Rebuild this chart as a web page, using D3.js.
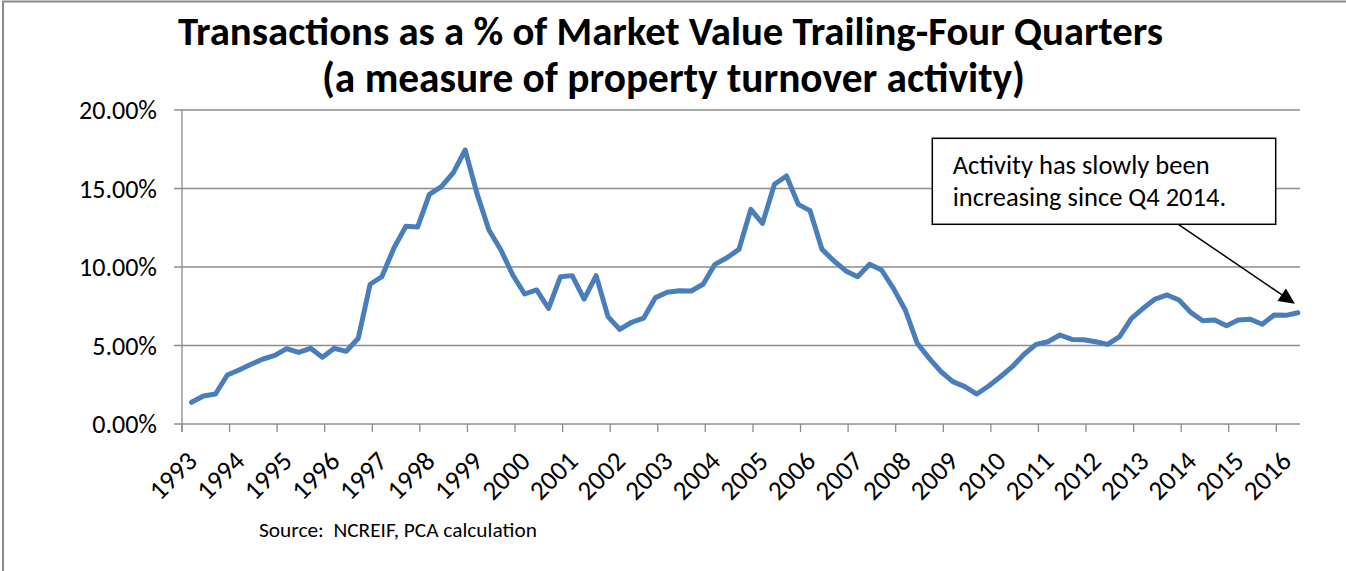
<!DOCTYPE html>
<html>
<head>
<meta charset="utf-8">
<script src="https://cdn.jsdelivr.net/npm/d3@7"></script>
<style>
  html, body { margin: 0; padding: 0; background: #fff; }
  svg { display: block; }
  text { font-family: Carlito, Lato, "Open Sans", sans-serif; fill: #000; }
</style>
</head>
<body>
<svg id="chart" width="1346" height="571"></svg>
<script>
// ---- data ----
const startYear = 1993;
const yearLabels = ["1993","1994","1995","1996","1997","1998","1999","2000","2001","2002","2003","2004",
                    "2005","2006","2007","2008","2009","2010","2011","2012","2013","2014","2015","2016"];
const turnover = [
  1.38,1.78,1.91,3.12,3.44,3.80,4.14,4.37,4.80,4.56,
  4.82,4.25,4.82,4.63,5.46,8.90,9.38,11.19,12.59,12.55,
  14.63,15.12,16.01,17.45,14.69,12.36,11.08,9.49,8.28,8.54,
  7.37,9.38,9.45,7.96,9.45,6.84,6.03,6.48,6.75,8.05,
  8.39,8.49,8.47,8.90,10.17,10.59,11.12,13.67,12.78,15.27,
  15.80,13.99,13.59,11.12,10.38,9.75,9.38,10.17,9.81,8.64,
  7.26,5.14,4.18,3.33,2.70,2.38,1.91,2.42,3.01,3.65,
  4.46,5.07,5.24,5.67,5.39,5.37,5.24,5.07,5.56,6.73,
  7.37,7.96,8.22,7.90,7.11,6.58,6.62,6.26,6.62,6.67,
  6.35,6.94,6.92,7.09
];
// quarters (categories): 1993 Q1 ... 2016 Q2
const quarters = turnover.map((v, i) => ({ year: startYear + Math.floor(i / 4), q: (i % 4) + 1 }));
const yTicks = [0, 5, 10, 15, 20];
const titleLines = ["Transactions as a % of Market Value Trailing-Four Quarters",
                    "(a measure of property turnover activity)"];
const noteLines = ["Activity has slowly been", "increasing since Q4 2014."];
const sourceText = "Source:  NCREIF, PCA calculation";

// ---- layout ----
const svg = d3.select("#chart");
const plot = { left: 182, right: 1300, top: 110, bottom: 424 };
const gray = "#8c8c8c";

const x = d3.scaleTime()
  .domain([new Date(1993, 0, 1), new Date(2016, 6, 1)])
  .range([plot.left, plot.right]);
const y = d3.scaleLinear().domain([0, 20]).range([plot.bottom, plot.top]);

function fit(sel, target) {
  const n = sel.node();
  const w = n.getComputedTextLength();
  const fs = parseFloat(sel.attr("font-size"));
  sel.attr("font-size", (fs * target / w).toFixed(2));
}

// outer border (top and left visible)
svg.append("path")
  .attr("d", "M3,571 L3,1.5 L1346,1.5")
  .attr("fill", "none").attr("stroke", gray).attr("stroke-width", 2);

// title
const t1 = svg.append("text").attr("x", 670.5).attr("y", 45).attr("text-anchor", "middle")
  .attr("font-weight", "bold").attr("font-size", 40).text(titleLines[0]);
fit(t1, 985);
const t2 = svg.append("text").attr("x", 673.5).attr("y", 92).attr("text-anchor", "middle")
  .attr("font-weight", "bold").attr("font-size", 40).text(titleLines[1]);
fit(t2, 703);

// gridlines
svg.append("g").selectAll("line").data(yTicks).join("line")
  .attr("x1", plot.left - 8).attr("x2", plot.right)
  .attr("y1", d => y(d)).attr("y2", d => y(d))
  .attr("stroke", gray).attr("stroke-width", 1.3);

// y axis line
svg.append("line").attr("x1", plot.left).attr("x2", plot.left)
  .attr("y1", plot.top).attr("y2", plot.bottom + 8)
  .attr("stroke", gray).attr("stroke-width", 1.3);

// y labels
const probe = svg.append("text").attr("font-size", 24).text("20.00%");
fit(probe, 78);
const yFont = +probe.attr("font-size");
probe.remove();
svg.append("g").selectAll("text").data(yTicks).join("text")
  .attr("x", 157).attr("y", d => y(d)).attr("dy", "0.35em")
  .attr("text-anchor", "end").attr("font-size", yFont)
  .text(d => d3.format(".2f")(d) + "%");

// x ticks (yearly)
const yearDates = yearLabels.map(s => new Date(+s, 0, 1));
svg.append("g").selectAll("line").data(yearDates).join("line")
  .attr("x1", d => x(d)).attr("x2", d => x(d))
  .attr("y1", plot.bottom).attr("y2", plot.bottom + 8)
  .attr("stroke", gray).attr("stroke-width", 1.3);

// x labels rotated
svg.append("g").selectAll("text").data(yearLabels).join("text")
  .attr("text-anchor", "end").attr("font-size", yFont + 1)
  .attr("transform", s => `translate(${x(new Date(+s, 0, 1)) + 10},${plot.bottom + 32}) rotate(-45)`)
  .attr("dy", "0.35em")
  .text(s => s);

// line
const line = d3.line()
  .x((d, i) => x(new Date(quarters[i].year, quarters[i].q * 3 - 1, 15)))
  .y(d => y(d));
svg.append("path").datum(turnover)
  .attr("d", line)
  .attr("fill", "none").attr("stroke", "#4a7ebb").attr("stroke-width", 5)
  .attr("stroke-linejoin", "round").attr("stroke-linecap", "round");

// annotation box
svg.append("rect").attr("x", 932.3).attr("y", 138.3).attr("width", 343.4).attr("height", 86)
  .attr("fill", "#fff").attr("stroke", "#000").attr("stroke-width", 1.5);
const n1 = svg.append("text").attr("x", 952.7).attr("y", 174).attr("font-size", 22).text(noteLines[0]);
fit(n1, 257);
svg.append("text").attr("x", 952.7).attr("y", 206).attr("font-size", n1.attr("font-size")).text(noteLines[1]);

// arrow
const last = turnover.length - 1;
const tipX = x(new Date(quarters[last].year, quarters[last].q * 3 - 1, 15)) - 3;
const tipY = y(turnover[last]) - 9;
const sx = 1178.3, sy = 224.3;
const ang = Math.atan2(tipY - sy, tipX - sx);
const hl = 16, hw = 7.5;
const bx = tipX - hl * Math.cos(ang), by = tipY - hl * Math.sin(ang);
svg.append("line").attr("x1", sx).attr("y1", sy).attr("x2", bx).attr("y2", by)
  .attr("stroke", "#000").attr("stroke-width", 1.5);
svg.append("path")
  .attr("d", `M${tipX},${tipY} L${bx + hw * Math.sin(ang)},${by - hw * Math.cos(ang)} L${bx - hw * Math.sin(ang)},${by + hw * Math.cos(ang)} Z`)
  .attr("fill", "#000");

// source
const src = svg.append("text").attr("x", 259).attr("y", 537).attr("font-size", 19)
  .style("white-space", "pre").text(sourceText);
fit(src, 278);
</script>
</body>
</html>
